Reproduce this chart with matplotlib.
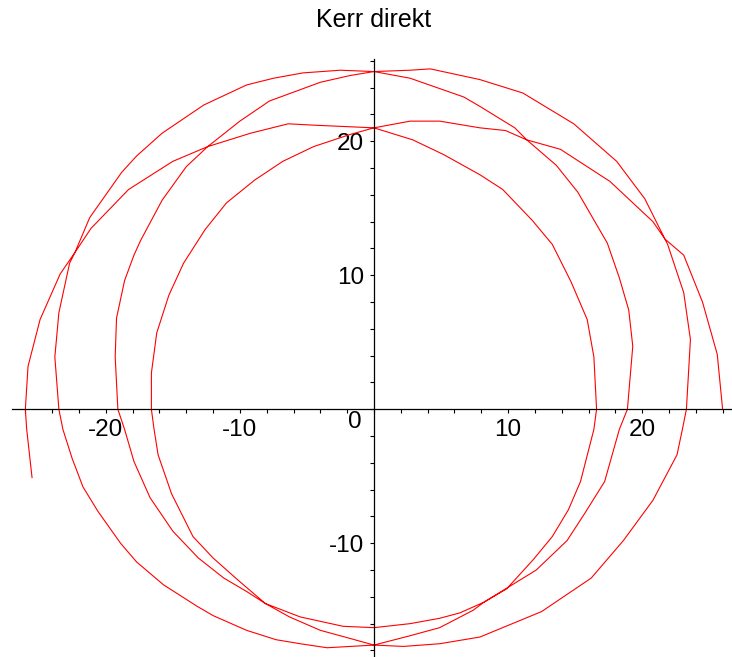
import matplotlib
matplotlib.use("Agg")
import matplotlib.pyplot as plt
import numpy as np

plt.rcParams['font.family'] = ['Liberation Sans', 'DejaVu Sans']

# orbit points, one pair of lists per turn
turn1_x = [26.0, 25.6, 24.5, 23.1, 21.7, 20.8, 17.6, 13.9, 11.4, 9.8, 7.9, 4.9, 2.7, 0.0,
           -1.8, -4.5, -6.8, -8.9, -11.0, -12.6, -14.2, -15.3, -16.2, -16.6, -16.6,
           -16.4, -16.1, -15.1, -13.5, -12.0, -10.2, -8.1, -6.3, -4.0, -1.8, 0.0,
           2.2, 4.9, 7.9, 12.5, 16.2, 18.6, 20.8, 22.6, 23.0, 23.3]
turn1_y = [0.0, 4.1, 8.0, 11.5, 12.7, 14.0, 17.0, 19.4, 20.1, 20.8, 21.0, 21.5, 21.5, 21.0,
           20.5, 19.6, 18.5, 17.1, 15.4, 13.4, 10.9, 8.5, 5.7, 2.7, 0.0,
           -1.5, -3.4, -6.3, -9.5, -11.1, -12.7, -14.5, -15.5, -16.5, -17.1, -17.6,
           -17.7, -17.5, -17.0, -15.1, -12.6, -9.8, -6.8, -3.4, -1.5, 0.0]

turn2_x = [23.6, 23.1, 21.9, 21.7, 20.2, 18.1, 14.9, 11.1, 7.9, 4.2, 2.7, 0.0,
           -1.8, -4.0, -7.8, -10.0, -12.4, -14.0, -15.8, -17.4, -17.9, -18.6, -19.2, -19.3, -19.1,
           -18.6, -17.9, -16.7, -15.0, -13.1, -11.2, -9.5, -8.1, -5.5, -2.3, 0.0,
           2.7, 4.9, 6.4, 8.2, 12.1, 14.4, 15.7, 17.2, 18.3, 18.9]
turn2_y = [5.2, 8.7, 12.3, 12.7, 15.7, 18.5, 21.3, 23.6, 24.6, 25.4, 25.3, 25.2,
           24.9, 24.4, 23.0, 21.5, 19.6, 18.1, 15.6, 12.6, 11.5, 9.6, 6.8, 3.9, 0.0,
           -1.5, -3.9, -6.6, -9.1, -11.1, -12.6, -13.6, -14.5, -15.5, -16.2, -16.3,
           -16.0, -15.6, -15.2, -14.4, -12.0, -9.8, -7.8, -5.4, -1.5, 0.0]

turn3_x = [19.3, 19.0, 18.3, 17.4, 15.2, 13.6, 11.4, 10.5, 7.9, 6.7, 2.7, 0.0,
           -2.5, -5.3, -7.5, -9.5, -12.7, -15.8, -17.7, -18.8, -21.2, -22.3, -22.7, -23.5, -23.8, -23.5,
           -23.2, -22.5, -21.7, -20.6, -18.9, -17.7, -15.7, -13.2, -12.0, -9.5, -7.3, -5.5, -3.5, 0.0,
           2.7, 4.9, 7.4, 8.2, 9.9, 11.9, 13.3, 14.5, 15.4, 16.4, 16.6]
turn3_y = [4.7, 7.4, 9.8, 12.4, 16.2, 18.2, 20.1, 21.0, 22.6, 23.3, 24.7, 25.2,
           25.3, 25.1, 24.7, 24.2, 22.7, 20.6, 18.9, 17.7, 14.3, 11.7, 10.9, 7.2, 3.9, 0.0,
           -1.5, -3.7, -5.8, -7.6, -10.0, -11.4, -13.1, -14.7, -15.4, -16.5, -17.2, -17.5, -17.8, -17.6,
           -16.9, -16.3, -15.0, -14.4, -13.4, -11.2, -9.5, -7.5, -5.4, -1.5, 0.0]

turn4_x = [16.4, 15.9, 14.7, 13.3, 11.8, 9.6, 7.9, 5.2, 2.9, 0.0,
           -4.5, -6.4, -9.2, -12.4, -15.0, -18.3, -21.1, -22.3, -23.4, -24.9, -25.8, -26.0,
           -25.9, -25.5]
turn4_y = [3.9, 6.7, 9.5, 12.3, 14.1, 16.4, 17.5, 19.0, 20.1, 21.0,
           21.2, 21.3, 20.6, 19.6, 18.5, 16.4, 13.5, 11.7, 10.1, 6.7, 3.2, 0.0,
           -1.5, -5.1]

x_ticks = np.arange(-26, 27, 2)
y_ticks = np.arange(-18, 27, 2)
title = "Kerr direkt"

fig = plt.figure(figsize=(7.32, 6.57), dpi=100)
ax = fig.add_axes([0, 0, 1, 1])

orbit_x = turn1_x + turn2_x + turn3_x + turn4_x
orbit_y = turn1_y + turn2_y + turn3_y + turn4_y
ax.plot(orbit_x, orbit_y, color='#ff0000', lw=0.8)

ax.set_xlim(-27.89, 26.70)
ax.set_ylim(-18.49, 30.54)

# maple style axes through the origin
ax.spines['top'].set_visible(False)
ax.spines['right'].set_visible(False)
ax.spines['left'].set_position(('data', 0))
ax.spines['bottom'].set_position(('data', 0))
ax.spines['bottom'].set_bounds(-27.0, 26.7)
ax.spines['left'].set_bounds(-18.5, 26.1)
for s in ['left', 'bottom']:
    ax.spines[s].set_linewidth(0.9)

ax.set_xticks(x_ticks)
ax.set_xticklabels([str(v) if v % 10 == 0 and v != 0 else '' for v in x_ticks])
ax.set_yticks(y_ticks)
ax.set_yticklabels([str(v) if v % 10 == 0 and v != 0 else '' for v in y_ticks])
ax.tick_params(direction='out', length=3, width=0.8, labelsize=17.5, pad=4)

ax.annotate('0', xy=(0, 0), xytext=(-19, -12.5), textcoords='offset pixels',
            ha='center', va='center', fontsize=17.5)

fig.text(0.511, 1 - 20 / 657, title, ha='center', va='center', fontsize=18)

fig.savefig('out.png', dpi=100, facecolor='white')
